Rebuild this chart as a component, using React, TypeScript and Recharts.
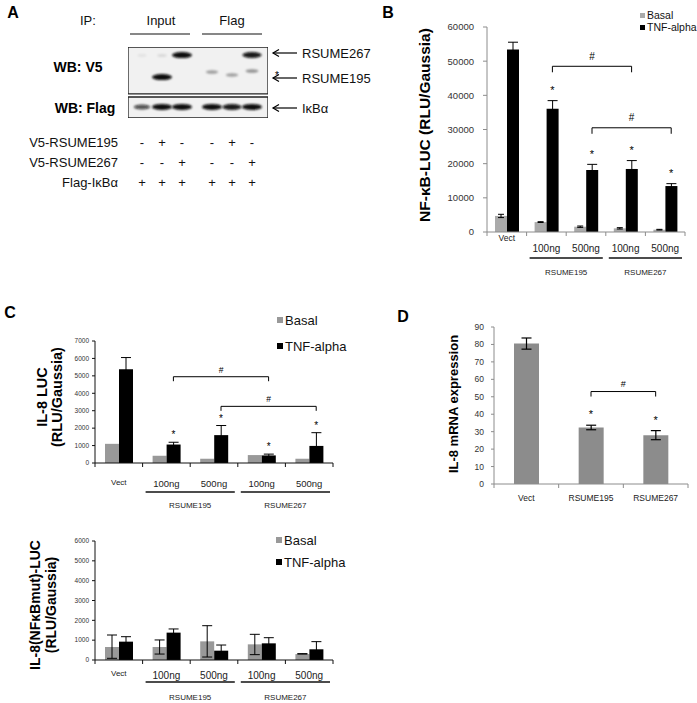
import React from "react";
import {
  Bar,
  BarChart,
  ErrorBar,
  Legend,
  ReferenceArea,
  ReferenceDot,
  ReferenceLine,
  Scatter,
  ScatterChart,
  XAxis,
  YAxis,
} from "recharts";

const FONT = '"Liberation Sans", Arial, Helvetica, sans-serif';

// ---------- panel A: co-IP western blot ----------
const laneX = [1, 2, 3, 4.5, 5.5, 6.5];
// [lane, migration position, signal density]
const v5Bands: [number, number, number][] = [
  [0, 88, 0.08],
  [1, 88, 0.12],
  [2, 88.7, 1.0],
  [1, 57.7, 1.0],
  [5, 88.7, 0.95],
  [3, 64.8, 0.35],
  [4, 60.6, 0.35],
  [5, 66.2, 0.4],
];
const flagBands: [number, number, number][] = [
  [0, 15.5, 0.7],
  [1, 15.5, 1.0],
  [2, 15.5, 1.0],
  [3, 15.5, 1.0],
  [4, 15.5, 0.95],
  [5, 15.5, 1.0],
];
const signRowLabels = ["V5-RSUME195", "V5-RSUME267", "Flag-I\u03baB\u03b1"];
const signRows = [
  ["-", "+", "-", "-", "+", "-"],
  ["-", "-", "+", "-", "-", "+"],
  ["+", "+", "+", "+", "+", "+"],
];

// ---------- shared categories ----------
const doseCats = ["vect", "195-100", "195-500", "267-100", "267-500"];
const doseLabels = ["Vect", "100ng", "500ng", "100ng", "500ng"];
const doseGroups = [
  { label: "RSUME195", from: 1 },
  { label: "RSUME267", from: 3 },
];

// ---------- panel B: NF-kB-LUC ----------
const bTicks = [0, 10000, 20000, 30000, 40000, 50000, 60000];
const bBasal = [4700, 2900, 1550, 1070, 680];
const bBasalErr = [480, 120, 200, 200, 100];
const bTnf = [53400, 36100, 18150, 18450, 13450];
const bTnfErr = [2150, 2350, 1650, 2450, 700];
const bStarred = ["195-100", "195-500", "267-100", "267-500"];
const bBrackets = [
  { from: "195-100", to: "267-100", y: 48500 },
  { from: "195-500", to: "267-500", y: 30500 },
];

// ---------- panel C (top): IL-8 LUC ----------
const cTicks = [0, 1000, 2000, 3000, 4000, 5000, 6000, 7000];
const cBasal = [1100, 415, 245, 455, 245];
const cTnf = [5380, 1060, 1600, 435, 980];
const cTnfErr = [670, 130, 550, 75, 760];
const cStarred = ["195-100", "195-500", "267-100", "267-500"];
const cBrackets = [
  { from: "195-100", to: "267-100", y: 4950 },
  { from: "195-500", to: "267-500", y: 3250 },
];

// ---------- panel C (bottom): IL-8(NFkBmut)-LUC ----------
const mTicks = [0, 1000, 2000, 3000, 4000, 5000, 6000];
const mBasal = [655, 655, 940, 790, 300];
const mBasalErr = [
  [570, 605],
  [355, 355],
  [790, 790],
  [520, 505],
  [0, 20],
];
const mTnf = [925, 1380, 470, 840, 540];
const mTnfErr = [250, 185, 285, 285, 385];

// ---------- panel D: IL-8 mRNA ----------
const dCats = ["Vect", "RSUME195", "RSUME267"];
const dTicks = [0, 10, 20, 30, 40, 50, 60, 70, 80, 90];
const dVals = [80.5, 32.4, 28];
const dErr = [3.2, 1.3, 2.6];
const dStarred = ["RSUME195", "RSUME267"];
const dBrackets = [{ from: "RSUME195", to: "RSUME267", y: 53 }];

type Row = { cat: string; basal: number; tnf: number; basalErr?: number | number[]; tnfErr: number };

const makeRows = (basal: number[], tnf: number[], tnfErr: number[], basalErr?: (number | number[])[]): Row[] =>
  doseCats.map((cat, i) => ({
    cat,
    basal: basal[i],
    tnf: tnf[i],
    tnfErr: tnfErr[i],
    basalErr: basalErr ? basalErr[i] : undefined,
  }));

const bRows = makeRows(bBasal, bTnf, bTnfErr, bBasalErr);
const cRows = makeRows(cBasal, cTnf, cTnfErr);
const mRows = makeRows(mBasal, mTnf, mTnfErr, mBasalErr);
const dRows = dCats.map((cat, i) => ({ cat, val: dVals[i], err: dErr[i] }));

const bracketShape = (dx: number, drop: number, gap: number, font: number) => (p: any) => {
  const x1 = p.x1 + dx;
  const x2 = p.x2 + dx;
  const y = p.y1;
  return (
    <g>
      <path d={`M${x1},${y + drop}V${y}H${x2}V${y + drop}`} fill="none" stroke="#000" strokeWidth={1} />
      <text x={(x1 + x2) / 2} y={y - gap} textAnchor="middle" fontSize={font} fontFamily={FONT} fill="#000">
        #
      </text>
    </g>
  );
};

const starShape = (dx: number, lift: number, font: number) => (p: any) => (
  <text x={p.cx + dx} y={p.cy - lift} textAnchor="middle" fontSize={font} fontFamily={FONT} fill="#000">
    *
  </text>
);

type LegendCfg = { x: number; y: number; font: number; rowH: number; box: number };

function LegendBox({ payload, cfg }: { payload: any[]; cfg: LegendCfg }) {
  return (
    <div style={{ fontFamily: FONT, fontSize: cfg.font, color: "#111" }}>
      {(payload || []).map((p: any) => (
        <div key={p.value} style={{ display: "flex", alignItems: "center", height: cfg.rowH, whiteSpace: "nowrap" }}>
          <span style={{ display: "inline-block", width: cfg.box, height: cfg.box, background: p.color, marginRight: 2 }} />
          {p.value}
        </div>
      ))}
    </div>
  );
}

type TickCfg = { fVect: number; fLab: number; fGroup: number; dVect: number; dLab: number; dLine: number; dGroup: number };

function DoseTick(props: any) {
  const { x, y, bw, axis, t } = props;
  const index: number = props.index ?? props.payload?.index ?? 0;
  const isVect = index === 0;
  const grp = doseGroups.find((g) => g.from === index);
  const last = index === doseLabels.length - 1;
  const tc: TickCfg = t;
  return (
    <g>
      <line x1={x - bw / 2} y1={y} x2={x - bw / 2} y2={y + 4} stroke={axis} />
      {last && <line x1={x + bw / 2} y1={y} x2={x + bw / 2} y2={y + 4} stroke={axis} />}
      <text
        x={x}
        y={y + (isVect ? tc.dVect : tc.dLab)}
        textAnchor="middle"
        fontSize={isVect ? tc.fVect : tc.fLab}
        fontFamily={FONT}
        fill="#222"
      >
        {doseLabels[index]}
      </text>
      {grp && (
        <g>
          <line x1={x - bw / 2 + 3} y1={y + tc.dLine} x2={x + bw * 1.5 - 3} y2={y + tc.dLine} stroke="#111" strokeWidth={1.4} />
          <text x={x + bw / 2} y={y + tc.dGroup} textAnchor="middle" fontSize={tc.fGroup} fontFamily={FONT} fill="#222">
            {grp.label}
          </text>
        </g>
      )}
    </g>
  );
}

type LucCfg = {
  left: number;
  top: number;
  width: number;
  height: number;
  mTop: number;
  mRight: number;
  yW: number;
  xH: number;
  rows: Row[];
  ticks: number[];
  basalColor: string;
  axisColor: string;
  tickFont: number;
  tickSize: number;
  tickMargin: number;
  barSize: number;
  capTnf: number;
  capBasal: number;
  showBasalErr: boolean;
  tick: TickCfg;
  legend: LegendCfg;
  starred: string[];
  starLift: number;
  starFont: number;
  brackets: { from: string; to: string; y: number }[];
  drop: number;
  hashGap: number;
  hashFont: number;
};

function LucChart({ c }: { c: LucCfg }) {
  const plotW = c.width - c.yW - c.mRight;
  const bw = plotW / c.rows.length;
  const half = c.barSize / 2;
  return (
    <div style={{ position: "absolute", left: c.left, top: c.top }}>
      <BarChart
        width={c.width}
        height={c.height}
        data={c.rows}
        margin={{ top: c.mTop, right: c.mRight, left: 0, bottom: 0 }}
        barGap={0}
        barSize={c.barSize}
      >
        <XAxis
          dataKey="cat"
          height={c.xH}
          interval={0}
          tickLine={false}
          tickSize={0}
          tickMargin={0}
          axisLine={{ stroke: c.axisColor }}
          tick={(p: any) => <DoseTick {...p} bw={bw} axis={c.axisColor} t={c.tick} />}
        />
        <YAxis
          width={c.yW}
          domain={[0, c.ticks[c.ticks.length - 1]]}
          ticks={c.ticks}
          interval={0}
          tickSize={c.tickSize}
          tickMargin={c.tickMargin}
          axisLine={{ stroke: c.axisColor }}
          tickLine={{ stroke: c.axisColor }}
          tick={{ fontSize: c.tickFont, fill: "#333", fontFamily: FONT }}
        />
        <Legend
          layout="vertical"
          align="center"
          verticalAlign="middle"
          wrapperStyle={{ left: c.legend.x, top: c.legend.y, width: "auto", height: "auto" }}
          content={(p: any) => <LegendBox payload={p.payload} cfg={c.legend} />}
        />
        <Bar dataKey="basal" name="Basal" fill={c.basalColor} isAnimationActive={false}>
          {c.showBasalErr && (
            <ErrorBar dataKey="basalErr" direction="y" width={c.capBasal} stroke="#000" strokeWidth={1} isAnimationActive={false} />
          )}
        </Bar>
        <Bar dataKey="tnf" name="TNF-alpha" fill="#000" isAnimationActive={false}>
          <ErrorBar dataKey="tnfErr" direction="y" width={c.capTnf} stroke="#000" strokeWidth={1} isAnimationActive={false} />
        </Bar>
        {c.brackets.map((b) => (
          <ReferenceLine
            key={b.from}
            segment={[
              { x: b.from, y: b.y },
              { x: b.to, y: b.y },
            ]}
            stroke="#000"
            ifOverflow="visible"
            shape={bracketShape(half, c.drop, c.hashGap, c.hashFont)}
          />
        ))}
        {c.rows
          .filter((r) => c.starred.includes(r.cat))
          .map((r) => (
            <ReferenceDot
              key={r.cat}
              x={r.cat}
              y={r.tnf + r.tnfErr}
              r={1}
              ifOverflow="visible"
              shape={starShape(half, c.starLift, c.starFont)}
            />
          ))}
      </BarChart>
    </div>
  );
}

function MrnaTick(props: any) {
  const { x, y, bw } = props;
  const index: number = props.index ?? props.payload?.index ?? 0;
  const last = index === dCats.length - 1;
  return (
    <g>
      <line x1={x - bw / 2} y1={y} x2={x - bw / 2} y2={y + 4} stroke="#8c8c8c" />
      {last && <line x1={x + bw / 2} y1={y} x2={x + bw / 2} y2={y + 4} stroke="#8c8c8c" />}
      <text x={x} y={y + 17} textAnchor="middle" fontSize={8.5} fontFamily={FONT} fill="#222">
        {dCats[index]}
      </text>
    </g>
  );
}

function YLabel({ x, y, lines, size, lh }: { x: number; y: number; lines: string[]; size: number; lh: number }) {
  return (
    <div
      style={{
        position: "absolute",
        left: x,
        top: y,
        transform: "translate(-50%, -50%) rotate(-90deg)",
        fontFamily: FONT,
        fontWeight: 700,
        fontSize: size,
        lineHeight: `${lh}px`,
        textAlign: "center",
        whiteSpace: "nowrap",
        color: "#000",
      }}
    >
      {lines.map((l) => (
        <div key={l}>{l}</div>
      ))}
    </div>
  );
}

function PanelLetter({ x, y, text }: { x: number; y: number; text: string }) {
  return (
    <div
      style={{
        position: "absolute",
        left: x,
        top: y,
        transform: "translate(-50%, -50%)",
        fontFamily: FONT,
        fontWeight: 700,
        fontSize: 16,
        color: "#000",
      }}
    >
      {text}
    </div>
  );
}

const laneToPx = (v: number) => 128 + (v - 0.3) * 20;

const BlotBand = (p: any) => {
  const d: number = p.payload.density;
  return (
    <ellipse
      cx={p.cx}
      cy={p.cy}
      rx={(8 + 12 * d) / 2}
      ry={(2 + 4 * d) / 2}
      fill="#0a0a0a"
      fillOpacity={Math.min(1, d)}
      filter="url(#blotBlur)"
    />
  );
};

function Arrow({ y, label, x }: { y: number; label: string; x: number }) {
  return (
    <g>
      <line x1={273} y1={y} x2={297} y2={y} stroke="#000" strokeWidth={1.2} />
      <path d={`M279,${y - 3.5}L273,${y}L279,${y + 3.5}`} fill="none" stroke="#000" strokeWidth={1.2} />
      <text x={x} y={y + 4.5} fontSize={13} fontFamily={FONT} fill="#111">
        {label}
      </text>
    </g>
  );
}

function PanelA() {
  const bandData = [
    ...v5Bands.map(([lane, pos, density]) => ({ x: laneX[lane], y: pos, density })),
    ...flagBands.map(([lane, pos, density]) => ({ x: laneX[lane], y: pos, density })),
  ];
  return (
    <>
      <svg width={380} height={200} style={{ position: "absolute", left: 0, top: 0 }}>
        <defs>
          <filter id="blotBlur" x="-50%" y="-100%" width="200%" height="300%">
            <feGaussianBlur stdDeviation="0.8" />
          </filter>
        </defs>
        <text x={80} y={24.5} fontSize={13} fontFamily={FONT} fill="#111">
          IP:
        </text>
        <text x={161} y={24.5} fontSize={13} fontFamily={FONT} fill="#111" textAnchor="middle">
          Input
        </text>
        <text x={232} y={24.5} fontSize={13} fontFamily={FONT} fill="#111" textAnchor="middle">
          Flag
        </text>
        <line x1={130} y1={34} x2={190} y2={34} stroke="#111" strokeWidth={1.2} />
        <line x1={202} y1={34} x2={262} y2={34} stroke="#111" strokeWidth={1.2} />
        <text x={78} y={72} fontSize={14} fontWeight={700} fontFamily={FONT} textAnchor="middle">
          WB: V5
        </text>
        <text x={85} y={113} fontSize={14} fontWeight={700} fontFamily={FONT} textAnchor="middle">
          WB: Flag
        </text>
        <Arrow y={53} x={302} label="RSUME267" />
        <Arrow y={78} x={302} label="RSUME195" />
        <Arrow y={108} x={302} label={"I\u03baB\u03b1"} />
        <text x={277} y={79} fontSize={10} fontFamily={FONT} textAnchor="middle">
          *
        </text>
        {signRows.map((row, r) => (
          <g key={r}>
            <text x={118} y={146.5 + r * 20} fontSize={13} fontFamily={FONT} textAnchor="end" fill="#111">
              {signRowLabels[r]}
            </text>
            {row.map((s, i) => (
              <text key={i} x={laneToPx(laneX[i])} y={146.5 + r * 20} fontSize={13} fontFamily={FONT} textAnchor="middle" fill="#111">
                {s}
              </text>
            ))}
          </g>
        ))}
      </svg>
      <div style={{ position: "absolute", left: 128, top: 47 }}>
        <ScatterChart width={140} height={71} margin={{ top: 0, right: 0, bottom: 0, left: 0 }}>
          <XAxis dataKey="x" type="number" domain={[0.3, 7.3]} hide />
          <YAxis dataKey="y" type="number" domain={[0, 100]} hide />
          <ReferenceArea x1={0.3} x2={7.3} y1={34} y2={100} fill="#f1f1f1" fillOpacity={1} stroke="#222" strokeWidth={1.3} ifOverflow="visible" />
          <ReferenceArea x1={0.3} x2={7.3} y1={0} y2={29.6} fill="#f1f1f1" fillOpacity={1} stroke="#222" strokeWidth={1.3} ifOverflow="visible" />
          <Scatter data={bandData} shape={BlotBand} isAnimationActive={false} />
        </ScatterChart>
      </div>
    </>
  );
}

const bCfg: LucCfg = {
  left: 440,
  top: 0,
  width: 257,
  height: 285,
  mTop: 27,
  mRight: 12,
  yW: 47,
  xH: 53,
  rows: bRows,
  ticks: bTicks,
  basalColor: "#aaaaaa",
  axisColor: "#8c8c8c",
  tickFont: 9.5,
  tickSize: 4,
  tickMargin: 9,
  barSize: 12,
  capTnf: 5,
  capBasal: 3,
  showBasalErr: true,
  tick: { fVect: 8.5, fLab: 10, fGroup: 8, dVect: 9, dLab: 19.5, dLine: 26, dGroup: 43 },
  legend: { x: 200, y: 9, font: 10.5, rowH: 12, box: 5 },
  starred: bStarred,
  starLift: 6.5,
  starFont: 11,
  brackets: bBrackets,
  drop: 6,
  hashGap: 6.5,
  hashFont: 10,
};

const cCfg: LucCfg = {
  left: 55,
  top: 300,
  width: 305,
  height: 215,
  mTop: 41,
  mRight: 27,
  yW: 40,
  xH: 52,
  rows: cRows,
  ticks: cTicks,
  basalColor: "#999999",
  axisColor: "#111",
  tickFont: 6.5,
  tickSize: 3,
  tickMargin: 3,
  barSize: 14,
  capTnf: 5,
  capBasal: 5,
  showBasalErr: false,
  tick: { fVect: 8, fLab: 9.5, fGroup: 8, dVect: 22, dLab: 23.5, dLine: 29, dGroup: 45 },
  legend: { x: 222, y: 7, font: 13, rowH: 26, box: 6 },
  starred: cStarred,
  starLift: 4,
  starFont: 10,
  brackets: cBrackets,
  drop: 4.5,
  hashGap: 4,
  hashFont: 8.5,
};

const mCfg: LucCfg = {
  ...cCfg,
  top: 500,
  height: 203,
  xH: 43,
  rows: mRows,
  ticks: mTicks,
  showBasalErr: true,
  tick: { fVect: 8, fLab: 10, fGroup: 8, dVect: 16, dLab: 18.5, dLine: 22, dGroup: 40 },
  legend: { x: 221, y: 29, font: 13, rowH: 22, box: 6 },
  starred: [],
  brackets: [],
};

function PanelD() {
  const bw = (257 - 54 - 9) / dCats.length;
  return (
    <div style={{ position: "absolute", left: 440, top: 290 }}>
      <BarChart width={257} height={225} data={dRows} margin={{ top: 37, right: 9, left: 0, bottom: 0 }}>
        <XAxis
          dataKey="cat"
          height={31}
          interval={0}
          tickLine={false}
          tickSize={0}
          tickMargin={0}
          axisLine={{ stroke: "#8c8c8c" }}
          tick={(p: any) => <MrnaTick {...p} bw={bw} />}
        />
        <YAxis
          width={54}
          domain={[0, 90]}
          ticks={dTicks}
          interval={0}
          tickSize={3}
          tickMargin={7}
          axisLine={{ stroke: "#8c8c8c" }}
          tickLine={{ stroke: "#8c8c8c" }}
          tick={{ fontSize: 8.5, fill: "#333", fontFamily: FONT }}
        />
        <Bar dataKey="val" fill="#8c8c8c" barSize={25} isAnimationActive={false}>
          <ErrorBar dataKey="err" direction="y" width={5} stroke="#000" strokeWidth={1.2} isAnimationActive={false} />
        </Bar>
        {dBrackets.map((b) => (
          <ReferenceLine
            key={b.from}
            segment={[
              { x: b.from, y: b.y },
              { x: b.to, y: b.y },
            ]}
            stroke="#000"
            ifOverflow="visible"
            shape={bracketShape(0, 5, 4.5, 9)}
          />
        ))}
        {dRows
          .filter((r) => dStarred.includes(r.cat))
          .map((r) => (
            <ReferenceDot key={r.cat} x={r.cat} y={r.val + r.err} r={1} ifOverflow="visible" shape={starShape(0, 7, 11)} />
          ))}
      </BarChart>
    </div>
  );
}

export default function App() {
  return (
    <div
      style={{
        position: "absolute",
        left: 0,
        top: 0,
        width: 697,
        height: 703,
        background: "#fff",
        overflow: "hidden",
        fontFamily: FONT,
      }}
    >
      <PanelLetter x={13} y={13} text="A" />
      <PanelLetter x={388} y={13} text="B" />
      <PanelLetter x={10} y={313} text="C" />
      <PanelLetter x={403} y={317} text="D" />
      <PanelA />
      <YLabel x={425} y={125} lines={["NF-\u03baB-LUC (RLU/Gaussia)"]} size={15.5} lh={18} />
      <LucChart c={bCfg} />
      <YLabel x={50} y={397} lines={["IL-8 LUC", "(RLU/Gaussia)"]} size={14.5} lh={15} />
      <LucChart c={cCfg} />
      <YLabel x={42.5} y={605} lines={["IL-8(NF\u03baBmut)-LUC", "(RLU/Gaussia)"]} size={14} lh={15.5} />
      <LucChart c={mCfg} />
      <YLabel x={452.5} y={404} lines={["IL-8 mRNA expression"]} size={13} lh={15} />
      <PanelD />
    </div>
  );
}
